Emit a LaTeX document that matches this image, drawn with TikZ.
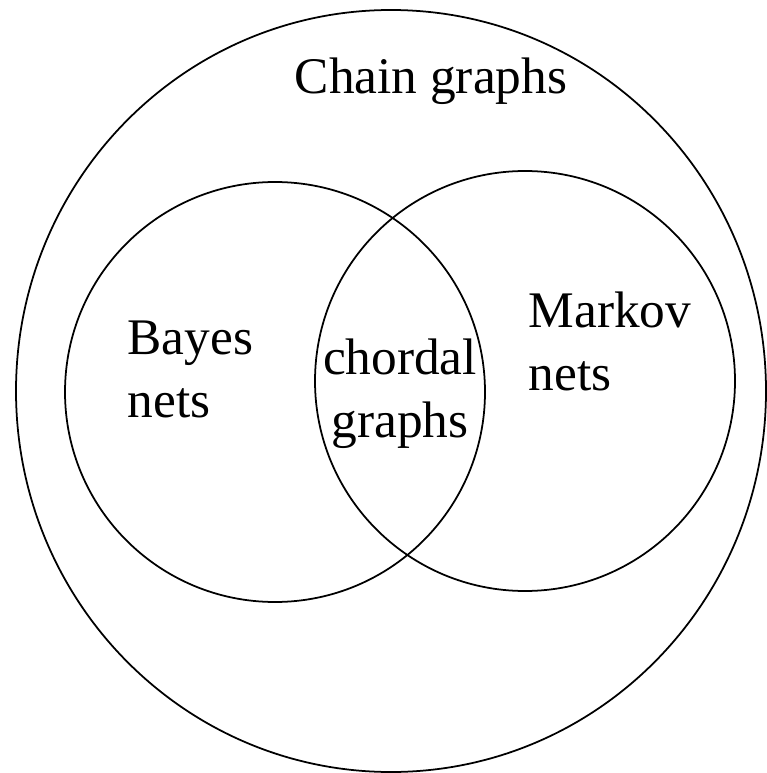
\documentclass[tikz,border=0pt]{standalone}
\usepackage{fontspec}
\setmainfont{Liberation Serif}
\usetikzlibrary{positioning}

\begin{document}
\begin{tikzpicture}[
  x=0.01cm,y=-0.01cm,
  set/.style={draw,line width=0.5pt},
  setname/.style={inner sep=0pt,font=\fontsize{14.6}{17.9}\selectfont}
]
\useasboundingbox (0,0) rectangle (766,773);
% the three sets
\draw[set] (391,391) ellipse (375 and 381);
\draw[set] (275,392) ellipse (210 and 210);
\draw[set] (525,381) ellipse (210 and 210);
% their names
\node[setname,anchor=base] (chain) at (431,94) {Chain graphs};
\node[setname,align=left,anchor=base west] (bayes) at (127,417) {Bayes\\nets};
\node[setname,align=left,anchor=base west] (markov) at (528,390) {Markov\\nets};
\node[setname,align=center,anchor=base] (chordal) at (400,437) {chordal\\graphs};
\end{tikzpicture}
\end{document}
